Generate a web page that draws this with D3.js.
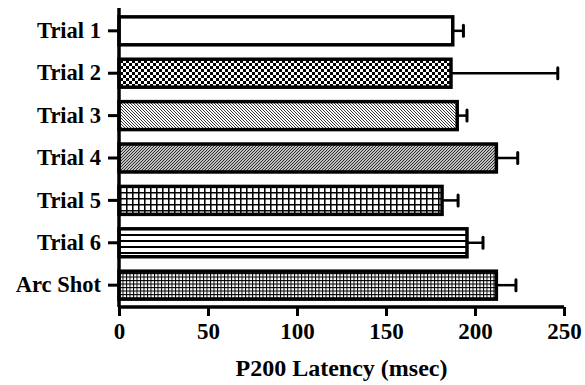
<!DOCTYPE html>
<html><head><meta charset="utf-8">
<script src="https://cdn.jsdelivr.net/npm/d3@7"></script>
<style>body{margin:0;background:#fff}svg{display:block}</style>
</head><body>
<svg id="c" width="585" height="385"></svg>
<script>
const categories = ["Trial 1","Trial 2","Trial 3","Trial 4","Trial 5","Trial 6","Arc Shot"];
const means = [187.5, 186.5, 190, 212, 181.5, 195.5, 212];
const errors = [6, 60, 5.5, 12, 9, 9, 11];
const xTicks = [0, 50, 100, 150, 200, 250];
const xTitle = "P200 Latency (msec)";
const patterns = ["none","checker","diagB","diagF","gridL","hlines","gridS"];

const svg = d3.select("#c");
const m = {left:119, right:20, top:9, bottom:78};
const W = 585, H = 385;
const x = d3.scaleLinear().domain([0,250]).range([m.left, 564]);
const y = d3.scaleBand().domain(categories).range([m.top, 307]).paddingInner(0.27).paddingOuter(0.15);

const defs = svg.append("defs");
function pat(id, w, h, draw){
  const p = defs.append("pattern").attr("id",id).attr("patternUnits","userSpaceOnUse").attr("width",w).attr("height",h);
  p.append("rect").attr("width",w).attr("height",h).attr("fill","#fff");
  draw(p);
}
pat("checker",6,6,p=>{p.append("rect").attr("width",3).attr("height",3).attr("fill","#000");p.append("rect").attr("x",3).attr("y",3).attr("width",3).attr("height",3).attr("fill","#000");});
pat("diagB",3,3,p=>{p.append("path").attr("d","M0,0L3,3M-1,2L1,4M2,-1L4,1").attr("stroke","#333").attr("stroke-width",1);});
pat("diagF",3,3,p=>{p.append("path").attr("d","M0,3L3,0M-1,1L1,-1M2,4L4,2").attr("stroke","#222").attr("stroke-width",1.1);});
pat("gridL",6,6,p=>{p.append("path").attr("d","M0,0.75H6M0.75,0V6").attr("stroke","#000").attr("stroke-width",1.6);});
pat("hlines",6,6,p=>{p.append("rect").attr("y",0).attr("width",6).attr("height",2).attr("fill","#000");});
pat("gridS",3.5,3.5,p=>{p.append("path").attr("d","M0,0.5H3.5M0.5,0V3.5").attr("stroke","#000").attr("stroke-width",1);});

const data = categories.map((c,i)=>({c, v:means[i], e:errors[i], p:patterns[i]}));

// error bars
const eg = svg.append("g");
data.forEach(d=>{
  const cy = y(d.c)+y.bandwidth()/2;
  eg.append("line").attr("x1",x(d.v)).attr("x2",x(d.v+d.e)).attr("y1",cy).attr("y2",cy).attr("stroke","#000").attr("stroke-width",2.5);
  eg.append("line").attr("x1",x(d.v+d.e)).attr("x2",x(d.v+d.e)).attr("y1",cy-5.5).attr("y2",cy+5.5).attr("stroke","#000").attr("stroke-width",3).attr("stroke-linecap","round");
});

// bars
svg.append("g").selectAll("rect").data(data).join("rect")
  .attr("x", x(0)).attr("y", d=>y(d.c)+1.5)
  .attr("width", d=>x(d.v)-x(0)).attr("height", y.bandwidth()-3)
  .attr("fill", d=>d.p==="none"?"#fff":`url(#${d.p})`)
  .attr("stroke","#000").attr("stroke-width",3.5);

// axes
const font = "'Liberation Serif','Times New Roman',serif";
const xa = svg.append("g").attr("transform",`translate(0,307)`)
  .call(d3.axisBottom(x).tickValues(xTicks).tickSize(9).tickPadding(7).tickFormat(d3.format("d")));
xa.select(".domain").attr("stroke-width",3.5).attr("d",`M${x(0)},0H${x(250)}`);
xa.selectAll(".tick line").attr("stroke-width",3);
xa.selectAll("text").attr("font-family",font).attr("font-weight","bold").style("font-size","23px").attr("fill","#000");

const ya = svg.append("g").attr("transform",`translate(${x(0)},0)`)
  .call(d3.axisLeft(y).tickSize(11).tickPadding(7));
ya.select(".domain").attr("stroke-width",3.5).attr("d",`M0,8V307`);
ya.selectAll(".tick line").attr("stroke-width",3);
ya.selectAll("text").attr("font-family",font).attr("font-weight","bold").style("font-size","22.5px").attr("fill","#000");

svg.append("text").attr("x",(x(0)+x(250))/2).attr("y",376).attr("text-anchor","middle")
  .attr("font-family",font).attr("font-weight","bold").style("font-size","24px").text(xTitle);
</script>
</body></html>
